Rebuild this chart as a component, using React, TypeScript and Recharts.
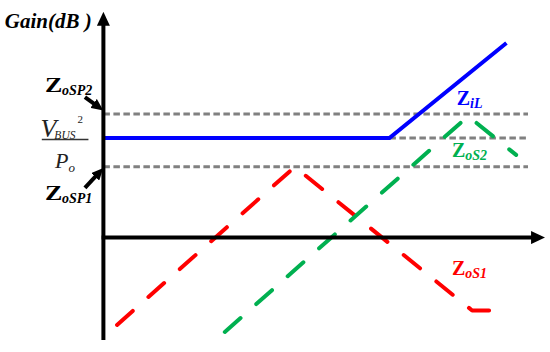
import React from "react";
import { LineChart, Line, XAxis, YAxis, ReferenceLine, ReferenceDot } from "recharts";

// frequency / gain readings (schematic units)
const iLFreq = [0, 65, 91.6];
const iLGain = [28.3, 28.3, 55.3];
const oS1Freq = [3.1, 43.5, 83.8, 89.7];
const oS1Gain = [-24.8, 20.1, -20.7, -20.7];
const oS2Freq = [27.6, 82.9, 93.8];
const oS2Gain = [-26.8, 34.5, 23.5];
const refGain = [35.1, 28.3, 20.1]; // ZoSP2, VBUS^2/Po, ZoSP1
const refFrom = [0, 65, 0];
const refTo = 96.5;

const toRows = (fs: number[], gs: number[]) => fs.map((f, i) => ({ f, g: gs[i] }));
const iLData = toRows(iLFreq, iLGain);
const oS1Data = toRows(oS1Freq, oS1Gain);
const oS2Data = toRows(oS2Freq, oS2Gain);
const refData = refGain.map((g, i) => toRows([refFrom[i], refTo], [g, g]));

const SERIF = "'Liberation Serif', 'Times New Roman', serif";

// curve names: Z with a bold italic subscript
const zLabel = (sub: string, color: string) => (p: any) => (
  <text x={p.cx} y={p.cy} fill={color} fontFamily={SERIF} fontWeight="bold">
    <tspan fontSize={20}>Z</tspan>
    <tspan fontSize={14} fontStyle="italic" dy={3}>{sub}</tspan>
  </text>
);

// the wide bold Z used for the two set points
const spLabel = (sub: string) => (p: any) => (
  <g transform={`translate(${p.cx},${p.cy})`} fill="#000" fontFamily={SERIF}>
    <text transform="scale(1.3,1)" fontSize={20} fontWeight="bold">Z</text>
    <text x={17} y={3} fontSize={14} fontWeight="bold" fontStyle="italic">{sub}</text>
  </g>
);

const plain = (node: React.ReactNode) => (p: any) => (
  <g transform={`translate(${p.cx},${p.cy})`}>{node}</g>
);

export default function App() {
  return (
    <div style={{ position: "absolute", left: 0, top: 0, background: "#fff" }}>
      <svg width={0} height={0} style={{ position: "absolute" }}>
        <defs>
          <marker id="axisHead" viewBox="0 0 14 13" markerWidth={14} markerHeight={13}
            refX={4} refY={6.5} orient="auto" markerUnits="userSpaceOnUse">
            <path d="M0,0 L14,6.5 L0,13 Z" fill="#000" />
          </marker>
          <marker id="noteHead" viewBox="0 0 12 11" markerWidth={12} markerHeight={11}
            refX={5} refY={5.5} orient="auto" markerUnits="userSpaceOnUse">
            <path d="M0,0 L12,5.5 L0,11 Z" fill="#000" />
          </marker>
        </defs>
      </svg>
      <LineChart width={550} height={352} margin={{ top: 0, right: 0, bottom: 0, left: 0 }}>
        <XAxis type="number" dataKey="f" domain={[-23.5, 101.5]} allowDataOverflow hide />
        <YAxis type="number" dataKey="g" domain={[-32.5, 67.5]} allowDataOverflow hide />

        {refData.map((d, i) => (
          <Line key={i} data={d} dataKey="g" stroke="#808080" strokeWidth={3}
            strokeDasharray="6.5 3.5" dot={false} activeDot={false} isAnimationActive={false} />
        ))}
        <Line data={oS1Data} dataKey="g" stroke="#ff0000" strokeWidth={4} strokeLinecap="round"
          strokeLinejoin="round" strokeDasharray="21 21" dot={false} activeDot={false} isAnimationActive={false} />
        <Line data={oS2Data} dataKey="g" stroke="#00b050" strokeWidth={4} strokeLinecap="round"
          strokeLinejoin="round" strokeDasharray="21 21" dot={false} activeDot={false} isAnimationActive={false} />
        <Line data={iLData} dataKey="g" stroke="#0000ff" strokeWidth={4}
          dot={false} activeDot={false} isAnimationActive={false} />

        {/* axes with arrowheads */}
        <ReferenceLine segment={[{ x: 0, y: -29.1 }, { x: 0, y: 61.3 }]} stroke="#000" strokeWidth={4}
          markerEnd="url(#axisHead)" ifOverflow="visible" />
        <ReferenceLine segment={[{ x: -0.4, y: 0 }, { x: 98.1, y: 0 }]} stroke="#000" strokeWidth={4}
          markerEnd="url(#axisHead)" ifOverflow="visible" />

        {/* pointers to the y axis */}
        <ReferenceLine segment={[{ x: -4.2, y: 39.9 }, { x: -1.3, y: 37.3 }]} stroke="#000" strokeWidth={4}
          markerEnd="url(#noteHead)" ifOverflow="visible" />
        <ReferenceLine segment={[{ x: -4.2, y: 14.1 }, { x: -1.1, y: 18.3 }]} stroke="#000" strokeWidth={4}
          markerEnd="url(#noteHead)" ifOverflow="visible" />

        {/* fraction bar */}
        <ReferenceLine segment={[{ x: -14, y: 27.9 }, { x: -3.4, y: 27.9 }]} stroke="#333" strokeWidth={1.5}
          ifOverflow="visible" />

        <ReferenceDot x={-22.4} y={59.6} r={0} ifOverflow="visible" shape={plain(
          <text fontFamily={SERIF} fontSize={21} fontWeight="bold" fontStyle="italic" fill="#000">Gain(dB )</text>
        )} />
        <ReferenceDot x={-13.3} y={41.4} r={0} ifOverflow="visible" shape={spLabel("oSP2")} />
        <ReferenceDot x={-13.3} y={10.7} r={0} ifOverflow="visible" shape={spLabel("oSP1")} />
        <ReferenceDot x={-14.3} y={28.7} r={0} ifOverflow="visible" shape={plain(
          <text fontFamily={SERIF} fill="#222" fontStyle="italic">
            <tspan fontSize={26}>V</tspan>
            <tspan fontSize={11.5} dx={-2} dy={2}>BUS</tspan>
            <tspan fontSize={11} fontStyle="normal" dx={2} dy={-16}>2</tspan>
          </text>
        )} />
        <ReferenceDot x={-11} y={19.8} r={0} ifOverflow="visible" shape={plain(
          <text fontFamily={SERIF} fill="#222" fontStyle="italic">
            <tspan fontSize={22}>P</tspan>
            <tspan fontSize={13} dy={4}>o</tspan>
          </text>
        )} />
        <ReferenceDot x={80.3} y={37.7} r={0} ifOverflow="visible" shape={zLabel("iL", "#0000ff")} />
        <ReferenceDot x={79.2} y={22.9} r={0} ifOverflow="visible" shape={zLabel("oS2", "#00b050")} />
        <ReferenceDot x={79.2} y={-10.6} r={0} ifOverflow="visible" shape={zLabel("oS1", "#ff0000")} />
      </LineChart>
    </div>
  );
}
